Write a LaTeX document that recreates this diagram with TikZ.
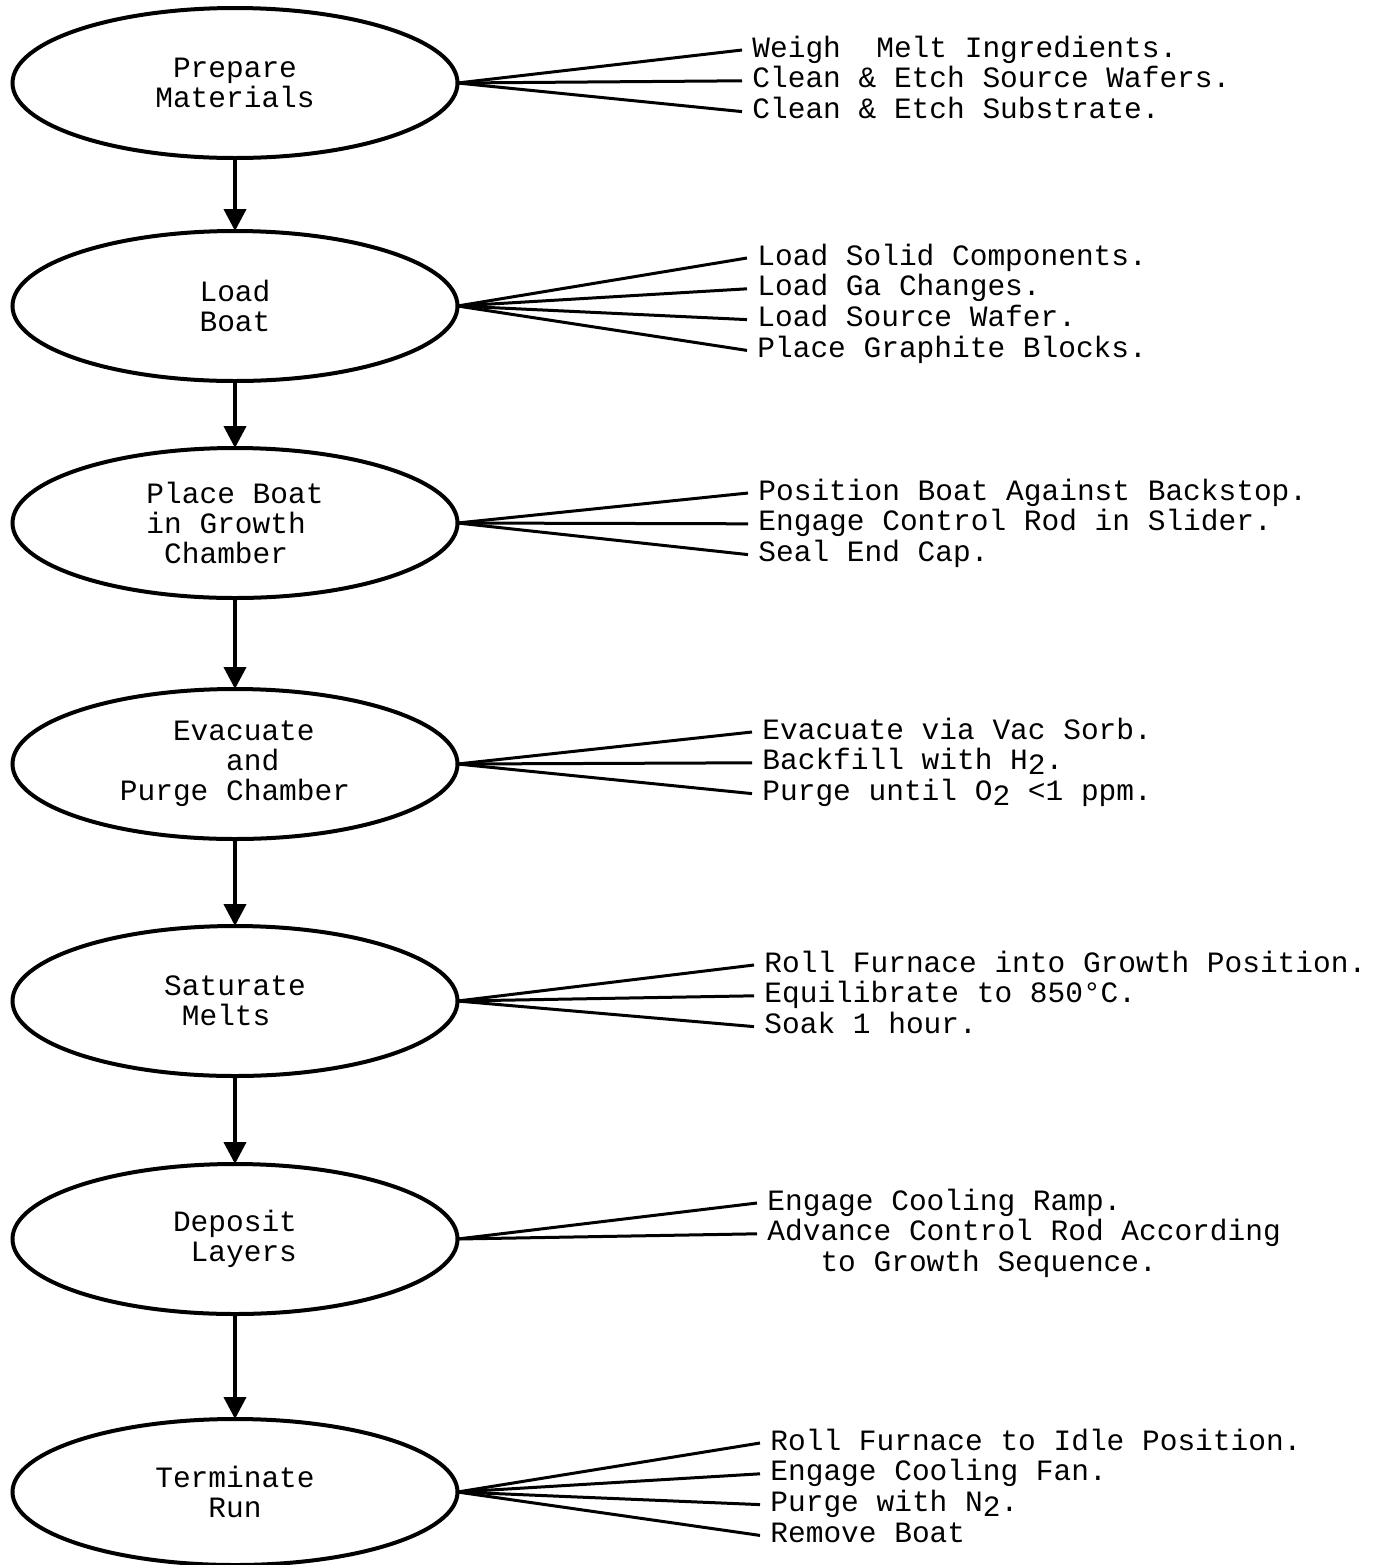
\documentclass[tikz,border=0pt]{standalone}
\usepackage{fontspec}
\setmainfont{Liberation Mono}
\usetikzlibrary{positioning,shapes,arrows.meta}
\newcommand{\ind}[1]{\hspace*{#1\fontdimen2\font}}
\newcommand{\subtxt}[1]{\raisebox{-0.3ex}{#1}}

\begin{document}
\begin{tikzpicture}[
  x=0.5pt, y=-0.5pt,
  node distance=40pt,
  stage/.style={draw,ellipse,line width=2pt,minimum width=222.5pt,minimum height=75pt,inner sep=0pt,outer sep=0pt,align=left},
  item/.style={anchor=west,inner xsep=5pt,inner ysep=0pt,text height=11pt,text depth=4pt},
  fan/.style={line width=1.5pt},
  flow/.style={line width=2pt,-{Triangle[width=11pt,length=11pt]}},
  font=\fontsize{14.75}{15}\selectfont
]
\useasboundingbox (0,0) rectangle (1381,1565);

% process steps
\node[stage] (prep) at (235,83) {\ind{1}Prepare\\Materials};
\node[stage,below=36.5pt of prep] (load) {Load\\Boat};
\node[stage,below=33.5pt of load] (place) {Place Boat\\in Growth\\\ind{1}Chamber};
\node[stage,below=45.5pt of place] (evac) {\ind{3}Evacuate\\\ind{6}and\\Purge Chamber};
\node[stage,below=43.5pt of evac] (sat) {Saturate\\\ind{1}Melts};
\node[stage,below=44pt of sat] (dep) {Deposit\\\ind{1}Layers};
\node[stage,below=52.5pt of dep,minimum height=73pt] (term) {Terminate\\\ind{3}Run};

\draw[flow] (prep.south) -- (load.north);
\draw[flow] (load.south) -- (place.north);
\draw[flow] (place.south) -- (evac.north);
\draw[flow] (evac.south) -- (sat.north);
\draw[flow] (sat.south) -- (dep.north);
\draw[flow] (dep.south) -- (term.north);

% details
\node[item] (p1) at (742,50) {Weigh\ \ Melt Ingredients.};
\node[item,below=0pt of p1.south west,anchor=north west] (p2) {Clean \& Etch Source Wafers.};
\node[item,below=0pt of p2.south west,anchor=north west] (p3) {Clean \& Etch Substrate.};

\node[item] (l1) at (747,258) {Load Solid Components.};
\node[item,below=0pt of l1.south west,anchor=north west] (l2) {Load Ga Changes.};
\node[item,below=0pt of l2.south west,anchor=north west] (l3) {Load Source Wafer.};
\node[item,below=0pt of l3.south west,anchor=north west] (l4) {Place Graphite Blocks.};

\node[item] (g1) at (748,493) {Position Boat Against Backstop.};
\node[item,below=0pt of g1.south west,anchor=north west] (g2) {Engage Control Rod in Slider.};
\node[item,below=0pt of g2.south west,anchor=north west] (g3) {Seal End Cap.};

\node[item] (e1) at (752,732) {Evacuate via Vac Sorb.};
\node[item,below=0pt of e1.south west,anchor=north west] (e2) {Backfill with H\subtxt{2}.};
\node[item,below=0pt of e2.south west,anchor=north west] (e3) {Purge until O\subtxt{2} <1 ppm.};

\node[item] (s1) at (754,965) {Roll Furnace into Growth Position.};
\node[item,below=0pt of s1.south west,anchor=north west] (s2) {Equilibrate to 850°C.};
\node[item,below=0pt of s2.south west,anchor=north west] (s3) {Soak 1 hour.};

\node[item] (d1) at (757,1203) {Engage Cooling Ramp.};
\node[item,below=0pt of d1.south west,anchor=north west] (d2) {Advance Control Rod According};
\node[item,below=0pt of d2.south west,anchor=north west] (d3) {\ind{3}to Growth Sequence.};

\node[item] (t1) at (760,1443) {Roll Furnace to Idle Position.};
\node[item,below=0pt of t1.south west,anchor=north west] (t2) {Engage Cooling Fan.};
\node[item,below=0pt of t2.south west,anchor=north west] (t3) {Purge with N\subtxt{2}.};
\node[item,below=0pt of t3.south west,anchor=north west] (t4) {Remove Boat};

\draw[fan] (prep.east) -- (p1.west);
\draw[fan] (prep.east) -- (p2.west);
\draw[fan] (prep.east) -- (p3.west);
\draw[fan] (load.east) -- (l1.west);
\draw[fan] (load.east) -- (l2.west);
\draw[fan] (load.east) -- (l3.west);
\draw[fan] (load.east) -- (l4.west);
\draw[fan] (place.east) -- (g1.west);
\draw[fan] (place.east) -- (g2.west);
\draw[fan] (place.east) -- (g3.west);
\draw[fan] (evac.east) -- (e1.west);
\draw[fan] (evac.east) -- (e2.west);
\draw[fan] (evac.east) -- (e3.west);
\draw[fan] (sat.east) -- (s1.west);
\draw[fan] (sat.east) -- (s2.west);
\draw[fan] (sat.east) -- (s3.west);
\draw[fan] (dep.east) -- (d1.west);
\draw[fan] (dep.east) -- (d2.west);
\draw[fan] (term.east) -- (t1.west);
\draw[fan] (term.east) -- (t2.west);
\draw[fan] (term.east) -- (t3.west);
\draw[fan] (term.east) -- (t4.west);
\end{tikzpicture}
\end{document}
